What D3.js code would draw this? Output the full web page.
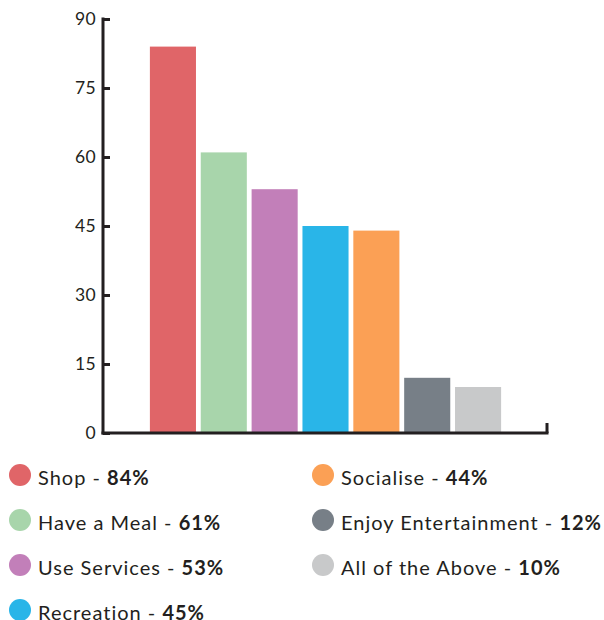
<!DOCTYPE html>
<html><head><meta charset="utf-8">
<script src="https://cdn.jsdelivr.net/npm/d3@7"></script>
<style>body{margin:0;background:#fff}svg{display:block}text{font-family:Lato,"Open Sans",sans-serif}</style>
</head><body><svg id="c" width="604" height="620"></svg>
<script>
const categories = ["Shop","Have a Meal","Use Services","Recreation","Socialise","Enjoy Entertainment","All of the Above"];
const values = [84,61,53,45,44,12,10];
const colors = ["#e06568","#a8d5ab","#c27fb9","#29b5e8","#fba055","#777f87","#c8c9ca"];
const yTicks = [0,15,30,45,60,75,90];

const svg = d3.select("#c");
const y = d3.scaleLinear().domain([0,90]).range([433,19]);
const x = d3.scaleBand().domain(categories).range([147.5,503.5]).paddingInner(0.094).paddingOuter(0.047);

svg.append("g").selectAll("rect").data(categories).join("rect")
  .attr("x", d=>x(d)).attr("width", x.bandwidth())
  .attr("y", (d,i)=>y(values[i])).attr("height", (d,i)=>y(0)-y(values[i]))
  .attr("fill", (d,i)=>colors[i]);

const axisColor = "#231f20";
// y axis
const yAxis = d3.axisRight(y).tickValues(yTicks).tickSize(7).tickFormat("");
const gy = svg.append("g").attr("transform","translate(103,0)").call(yAxis);
gy.select(".domain").remove();
gy.selectAll(".tick line").attr("stroke",axisColor).attr("stroke-width",3);
svg.append("line").attr("x1",103).attr("x2",103).attr("y1",y(90)-1.5).attr("y2",y(0)+1.5)
  .attr("stroke",axisColor).attr("stroke-width",3);
svg.append("g").selectAll("text").data(yTicks).join("text")
  .attr("x",96).attr("y",d=>y(d)).attr("dy","0.36em").attr("text-anchor","end")
  .attr("font-size",17.5).attr("fill","#231f20").attr("letter-spacing","0.3").text(d=>d);
// x axis
svg.append("line").attr("x1",101.5).attr("x2",548.5).attr("y1",433).attr("y2",433)
  .attr("stroke",axisColor).attr("stroke-width",3);
svg.append("line").attr("x1",547).attr("x2",547).attr("y1",423).attr("y2",433)
  .attr("stroke",axisColor).attr("stroke-width",3);

// legend
const pos = [[20,475],[20,520],[20,565],[20,610],[323,475],[323,520],[323,565]];
const lg = svg.append("g").selectAll("g").data(categories).join("g")
  .attr("transform",(d,i)=>`translate(${pos[i][0]},${pos[i][1]})`);
lg.append("circle").attr("r",11).attr("fill",(d,i)=>colors[i]);
const t = lg.append("text").attr("x",18).attr("y",3).attr("dy","0.36em")
  .attr("font-size",20).attr("fill","#231f20").attr("letter-spacing","1");
t.append("tspan").text(d=>d+" - ");
t.append("tspan").attr("font-weight","bold").text((d,i)=>values[i]+"%");
</script></body></html>
